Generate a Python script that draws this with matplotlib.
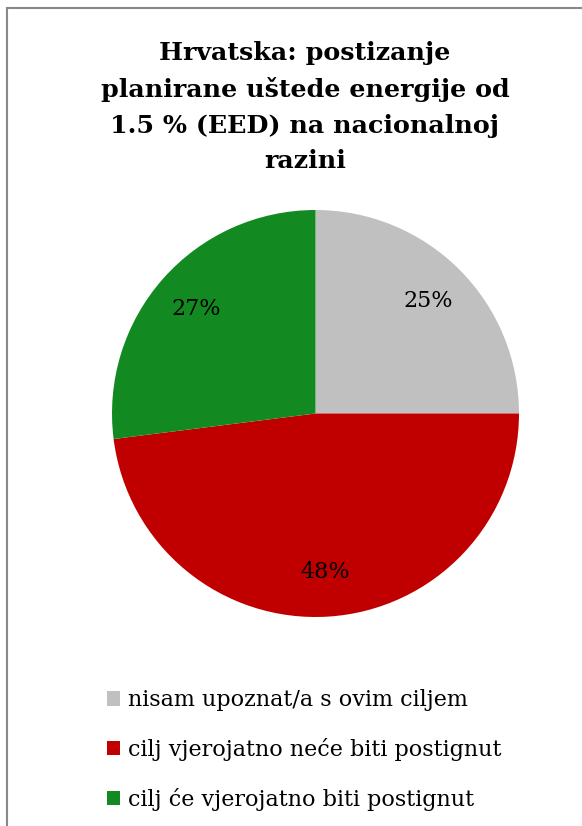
import matplotlib
matplotlib.use("Agg")
import matplotlib.pyplot as plt
from matplotlib.patches import Rectangle, Patch

title = "Hrvatska: postizanje\nplanirane uštede energije od\n1.5 % (EED) na nacionalnoj\nrazini"
categories = ["nisam upoznat/a s ovim ciljem",
              "cilj vjerojatno neće biti postignut",
              "cilj će vjerojatno biti postignut"]
shares = [25, 48, 27]
colors = ["#C0C0C0", "#C00000", "#138A21"]

plt.rcParams["font.family"] = ["DejaVu Serif"]

fig = plt.figure(figsize=(5.82, 8.26), dpi=100)

# chart frame (cut off at right and bottom like the original)
fig.patches.append(Rectangle((7 / 582, -0.1), 1.2, 1 - 8 / 826 + 0.1,
                             transform=fig.transFigure, fill=False,
                             edgecolor="#888888", linewidth=1.5))

fig.text(305 / 582, 1 - 107 / 826, title, ha="center", va="center",
         fontsize=18.3, fontweight="bold", linespacing=1.62)

ax = fig.add_axes([112 / 582, 1 - 617 / 826, 407 / 582, 407 / 826])
ax.pie(shares, colors=colors, startangle=90, counterclock=False,
       autopct="%d%%", pctdistance=0.78,
       textprops={"fontsize": 16, "color": "black"},
       wedgeprops={"linewidth": 0})
ax.set_aspect("equal")
ax.set_xlim(-1, 1)
ax.set_ylim(-1, 1)

handles = [Patch(facecolor=c, edgecolor="none") for c in colors]
fig.legend(handles, categories, loc="center left",
           bbox_to_anchor=(87 / 582, 1 - 750 / 826), frameon=False,
           fontsize=16, handlelength=0.6, handleheight=0.6,
           handletextpad=0.35, labelspacing=1.2)

fig.savefig("out.png", dpi=100)
